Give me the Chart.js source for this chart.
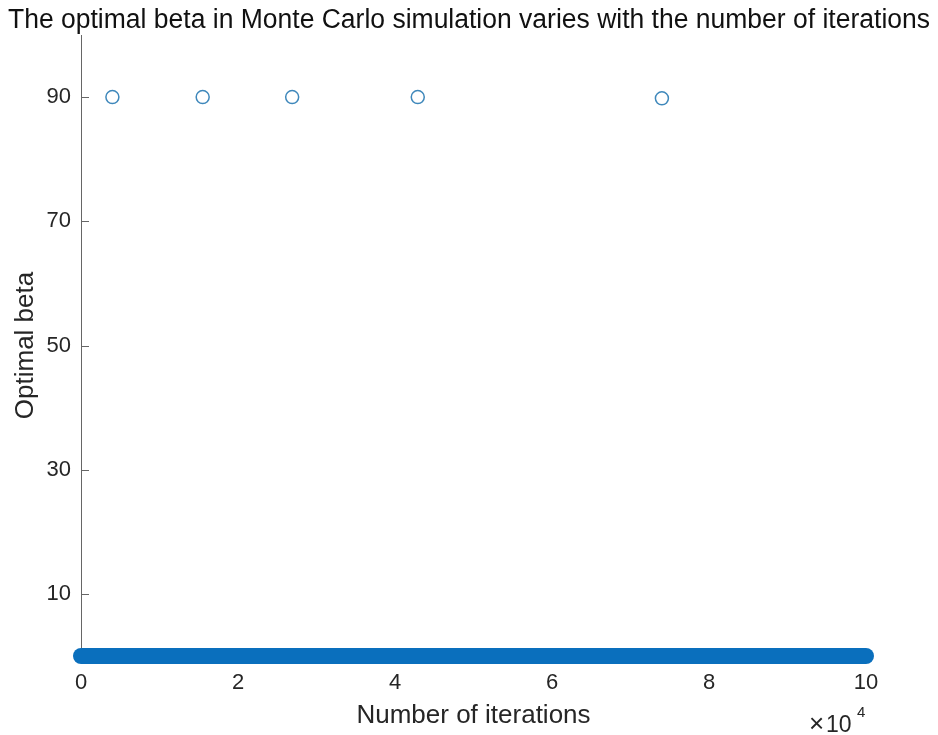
<!DOCTYPE html>
<html>
<head>
<meta charset="utf-8">
<script src="https://cdn.jsdelivr.net/npm/chart.js@4/dist/chart.umd.min.js"></script>
<style>
  html, body { margin: 0; padding: 0; background: #fff; }
  #wrap { width: 938px; height: 735px; }
</style>
</head>
<body>
<div id="wrap"><canvas id="scatter-chart"></canvas></div>
<script>
// iterations where the optimal beta jumped to 90
const peakIters = [4000, 15500, 26900, 42900, 74000];
const peakBeta = [90, 90, 90, 90, 89.8];

// every other iteration sits at beta = 0 (drawn as one dense run)
const zeroRunIters = [0, 100000];
const zeroRunBeta = [0, 0];

const yTicks = [10, 30, 50, 70, 90];
const xTicks = [0, 20000, 40000, 60000, 80000, 100000];

const titleText = 'The optimal beta in Monte Carlo simulation varies with the number of iterations';
const fontName = '"Liberation Sans", Arial, sans-serif';

const ctx = document.getElementById('scatter-chart');

// title, x10^4 marker and inward y ticks
const extras = {
    id: 'extras',
    afterDraw(chart) {
        const c = chart.ctx;
        const y = chart.scales.y;
        const area = chart.chartArea;
        c.save();
        c.fillStyle = '#111';
        c.font = '27px ' + fontName;
        c.textAlign = 'center';
        c.textBaseline = 'alphabetic';
        c.fillText(titleText, 469, 28, 922);

        c.strokeStyle = '#666';
        c.lineWidth = 1;
        yTicks.forEach(function (t) {
            const py = Math.round(y.getPixelForValue(t)) + 0.5;
            c.beginPath();
            c.moveTo(area.left, py);
            c.lineTo(area.left + 8, py);
            c.stroke();
        });

        c.fillStyle = '#262626';
        c.textAlign = 'left';
        c.font = '26px ' + fontName;
        c.fillText('\u00d7', 809, 732);
        c.font = '23px ' + fontName;
        c.fillText('10', 826, 732);
        c.font = '15px ' + fontName;
        c.fillText('4', 857, 717);
        c.restore();
    }
};

let dataOptions = {
    datasets: [
        {
            type: 'line',
            data: zeroRunIters.map((x, i) => ({x: x, y: zeroRunBeta[i]})),
            borderColor: '#0a6fbd',
            borderWidth: 16,
            borderCapStyle: 'round',
            pointRadius: 0,
            clip: false
        },
        {
            type: 'scatter',
            data: peakIters.map((x, i) => ({x: x, y: peakBeta[i]})),
            borderColor: '#3f88bb',
            backgroundColor: 'rgba(0,0,0,0)',
            borderWidth: 1.5,
            pointRadius: 6.5,
            clip: false
        }
    ]
};

let options = {
    responsive: true,
    maintainAspectRatio: false,
    animation: false,
    layout: { padding: { top: 35, right: 72, left: 0, bottom: 0 } },
    plugins: {
        legend: { display: false },
        tooltip: { enabled: false }
    },
    scales: {
        x: {
            type: 'linear',
            min: 0,
            max: 100000,
            afterBuildTicks: (s) => { s.ticks = xTicks.map(v => ({value: v})); },
            afterFit: (s) => { s.height = 79; },
            grid: { display: false, drawTicks: false },
            border: { display: true, color: '#666' },
            ticks: {
                padding: 14,
                color: '#262626',
                font: { family: fontName, size: 22 },
                callback: (v) => v / 10000
            },
            title: {
                display: true,
                text: 'Number of iterations',
                color: '#262626',
                font: { family: fontName, size: 26 },
                padding: { top: 0, bottom: 4 }
            }
        },
        y: {
            type: 'linear',
            min: 0,
            max: 100,
            afterBuildTicks: (s) => { s.ticks = yTicks.map(v => ({value: v})); },
            afterFit: (s) => { s.width = 81; },
            grid: { display: false, drawTicks: false },
            border: { display: true, color: '#666', width: 1 },
            ticks: {
                padding: 10,
                color: '#262626',
                font: { family: fontName, size: 22 }
            },
            title: {
                display: true,
                text: 'Optimal beta',
                color: '#262626',
                font: { family: fontName, size: 26 },
                padding: { top: 10, bottom: 0 }
            }
        }
    }
};

const betaChart = new Chart(ctx, {
    type: 'scatter',
    data: dataOptions,
    options: options,
    plugins: [extras]
});
</script>
</body>
</html>
